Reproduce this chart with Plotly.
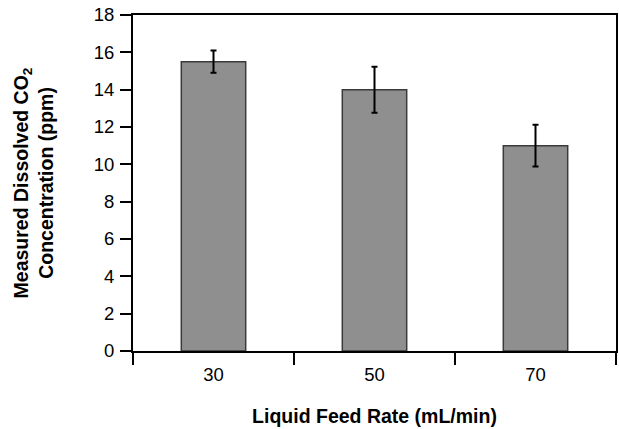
import plotly.graph_objects as go

categories = ["30", "50", "70"]
values = [15.5, 14.0, 11.0]
errors = [0.6, 1.23, 1.12]
y_ticks = [0, 2, 4, 6, 8, 10, 12, 14, 16, 18]

FONT = "Liberation Sans, Arial, sans-serif"

fig = go.Figure()
fig.add_trace(go.Bar(
    x=categories, y=values, width=0.4,
    marker=dict(color="#8f8f8f", line=dict(color="#3a3a3a", width=1.5)),
    error_y=dict(type="data", array=errors, color="black", thickness=2, width=3),
    hoverinfo="skip",
))

fig.update_layout(
    width=619, height=429,
    margin=dict(l=133, r=3, t=15, b=78, autoexpand=False),
    paper_bgcolor="white", plot_bgcolor="white",
    font=dict(family=FONT, size=18.5, color="black"),
    showlegend=False,
)
fig.update_xaxes(
    type="category", tickson="boundaries", ticks="outside", ticklen=12,
    tickwidth=1.5, tickcolor="black", ticklabelstandoff=6,
    showline=True, linecolor="black", linewidth=2, mirror=True,
    showgrid=False, automargin=False,
    title=dict(text="<b>Liquid Feed Rate (mL/min)</b>",
               font=dict(family=FONT, size=19.5), standoff=25),
)
fig.update_yaxes(
    range=[0, 18], tickvals=y_ticks, ticks="outside", ticklen=11,
    tickwidth=1.5, tickcolor="black", ticklabelstandoff=2,
    showline=True, linecolor="black", linewidth=2, mirror=True,
    showgrid=False, zeroline=False, automargin=False,
    title=dict(text="<b>Measured Dissolved CO<sub>2</sub><br>Concentration (ppm)</b>",
               font=dict(family=FONT, size=19.5), standoff=35),
)

fig.write_html("out.html", config={"displayModeBar": False},
               post_script="document.body.style.margin='0';document.body.style.overflow='hidden';")
